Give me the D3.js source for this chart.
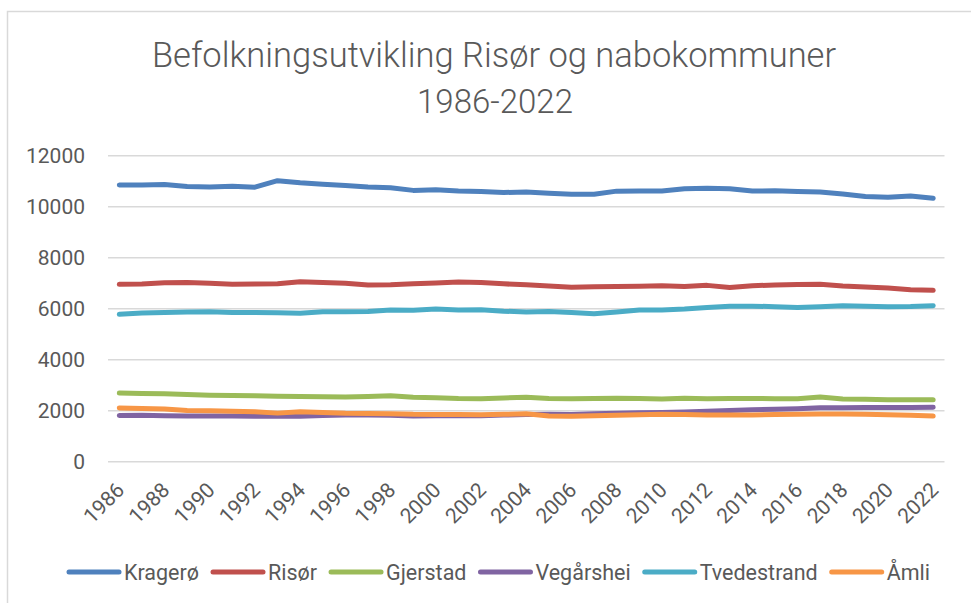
<!DOCTYPE html>
<html>
<head>
<meta charset="utf-8">
<script src="https://cdnjs.cloudflare.com/ajax/libs/d3/7.8.5/d3.min.js"></script>
<style>
  body { margin: 0; background: #fff; }
  svg { display: block; font-family: Roboto, "Open Sans", sans-serif; }
</style>
</head>
<body>
<script>
'use strict';

// Years (categories)
var years = d3.range(1986, 2023);
var tickYears = years.filter(function(y) { return (y - 1986) % 2 === 0; });
var yTicks = [0, 2000, 4000, 6000, 8000, 10000, 12000];

var seriesNames = ["Kragerø", "Risør", "Gjerstad", "Vegårshei", "Tvedestrand", "Åmli"];
var seriesColors = ["#4F81BD", "#C0504D", "#9BBB59", "#8064A2", "#4BACC6", "#F79646"];

var kragero = [10850, 10855, 10870, 10790, 10775, 10800, 10765, 11020, 10940, 10880,
  10830, 10770, 10745, 10640, 10660, 10620, 10600, 10555, 10580, 10525,
  10485, 10485, 10610, 10620, 10620, 10705, 10720, 10705, 10615, 10625,
  10600, 10575, 10500, 10400, 10370, 10420, 10330];
var risor = [6955, 6965, 7015, 7030, 7000, 6960, 6965, 6975, 7055, 7030,
  7000, 6925, 6935, 6975, 7010, 7050, 7030, 6975, 6935, 6895,
  6845, 6860, 6875, 6885, 6900, 6875, 6915, 6835, 6900, 6930,
  6945, 6955, 6890, 6850, 6810, 6745, 6720];
var gjerstad = [2690, 2670, 2660, 2640, 2610, 2595, 2590, 2565, 2555, 2550,
  2540, 2560, 2585, 2530, 2510, 2480, 2470, 2500, 2530, 2480,
  2470, 2480, 2490, 2480, 2460, 2490, 2470, 2480, 2480, 2470,
  2470, 2535, 2460, 2450, 2430, 2430, 2425];
var vegarshei = [1815, 1820, 1805, 1795, 1790, 1790, 1785, 1780, 1785, 1810,
  1830, 1830, 1820, 1790, 1800, 1800, 1805, 1830, 1850, 1860,
  1855, 1880, 1900, 1915, 1925, 1950, 1980, 2010, 2035, 2055,
  2080, 2120, 2120, 2125, 2125, 2130, 2135];
var tvedestrand = [5780, 5830, 5855, 5870, 5880, 5850, 5855, 5840, 5825, 5880,
  5880, 5890, 5945, 5935, 5985, 5950, 5955, 5900, 5875, 5890,
  5850, 5805, 5870, 5945, 5950, 5985, 6045, 6095, 6100, 6080,
  6045, 6075, 6115, 6095, 6080, 6090, 6120];
var amli = [2110, 2090, 2070, 2010, 1995, 1980, 1955, 1905, 1960, 1930,
  1900, 1895, 1885, 1860, 1855, 1850, 1845, 1860, 1880, 1795,
  1785, 1800, 1825, 1845, 1860, 1855, 1830, 1835, 1830, 1850,
  1860, 1875, 1870, 1860, 1845, 1820, 1790];

var seriesValues = [kragero, risor, gjerstad, vegarshei, tvedestrand, amli];

var width = 971, height = 603;
var textColor = "#595959";

var svg = d3.select("body").append("svg")
  .attr("width", width)
  .attr("height", height);

// chart frame (cropped on right and bottom)
svg.append("rect")
  .attr("x", 7.5).attr("y", 11.5)
  .attr("width", width + 20).attr("height", height + 20)
  .attr("fill", "#fff")
  .attr("stroke", "#d9d9d9")
  .attr("stroke-width", 1.5);

// Title
var title = svg.append("text")
  .attr("text-anchor", "middle")
  .attr("fill", textColor)
  .style("font-weight", 300);
title.append("tspan").attr("x", 494).attr("y", 67)
  .style("font-size", "34.5px")
  .text("Befolkningsutvikling Risør og nabokommuner");
title.append("tspan").attr("x", 495).attr("y", 113)
  .style("font-size", "33px")
  .text("1986-2022");

// Scales
var x = d3.scaleBand().domain(years).range([108, 944.5]);
var y = d3.scaleLinear().domain([0, 12000]).range([461.7, 155.7]);
function cx(yr) { return x(yr) + x.bandwidth() / 2; }

// Gridlines
svg.append("g").selectAll("line")
  .data(yTicks)
  .enter().append("line")
  .attr("x1", 108).attr("x2", 944.5)
  .attr("y1", function(d) { return y(d); })
  .attr("y2", function(d) { return y(d); })
  .attr("stroke", "#d9d9d9")
  .attr("stroke-width", 1.5);

// Y axis labels
svg.append("g").selectAll("text")
  .data(yTicks)
  .enter().append("text")
  .attr("x", 85)
  .attr("y", function(d) { return y(d); })
  .attr("dy", "0.36em")
  .attr("text-anchor", "end")
  .attr("fill", textColor)
  .style("font-size", "21px")
  .text(function(d) { return d; });

// X axis labels
svg.append("g").selectAll("text")
  .data(tickYears)
  .enter().append("text")
  .attr("transform", function(d) { return "translate(" + (cx(d) + 1) + ",486) rotate(-45)"; })
  .attr("text-anchor", "end")
  .attr("dy", "0.36em")
  .attr("fill", textColor)
  .style("font-size", "21px")
  .text(function(d) { return d; });

// Lines
var line = d3.line()
  .x(function(d, i) { return cx(years[i]); })
  .y(function(d) { return y(d); });

svg.append("g").selectAll("path")
  .data(seriesValues)
  .enter().append("path")
  .attr("d", line)
  .attr("fill", "none")
  .attr("stroke", function(d, i) { return seriesColors[i]; })
  .attr("stroke-width", 5)
  .attr("stroke-linejoin", "round")
  .attr("stroke-linecap", "round");

// Legend
var legend = svg.append("g");
var lx = 67, ly = 572;
seriesNames.forEach(function(name, i) {
  legend.append("line")
    .attr("x1", lx + 2).attr("x2", lx + 52)
    .attr("y1", ly).attr("y2", ly)
    .attr("stroke", seriesColors[i])
    .attr("stroke-width", 5)
    .attr("stroke-linecap", "round");
  var t = legend.append("text")
    .attr("x", lx + 57)
    .attr("y", ly)
    .attr("dy", "0.36em")
    .attr("fill", textColor)
    .style("font-size", "21.5px")
    .text(name);
  lx += 57 + t.node().getComputedTextLength() + 12;
});
</script>
</body>
</html>
